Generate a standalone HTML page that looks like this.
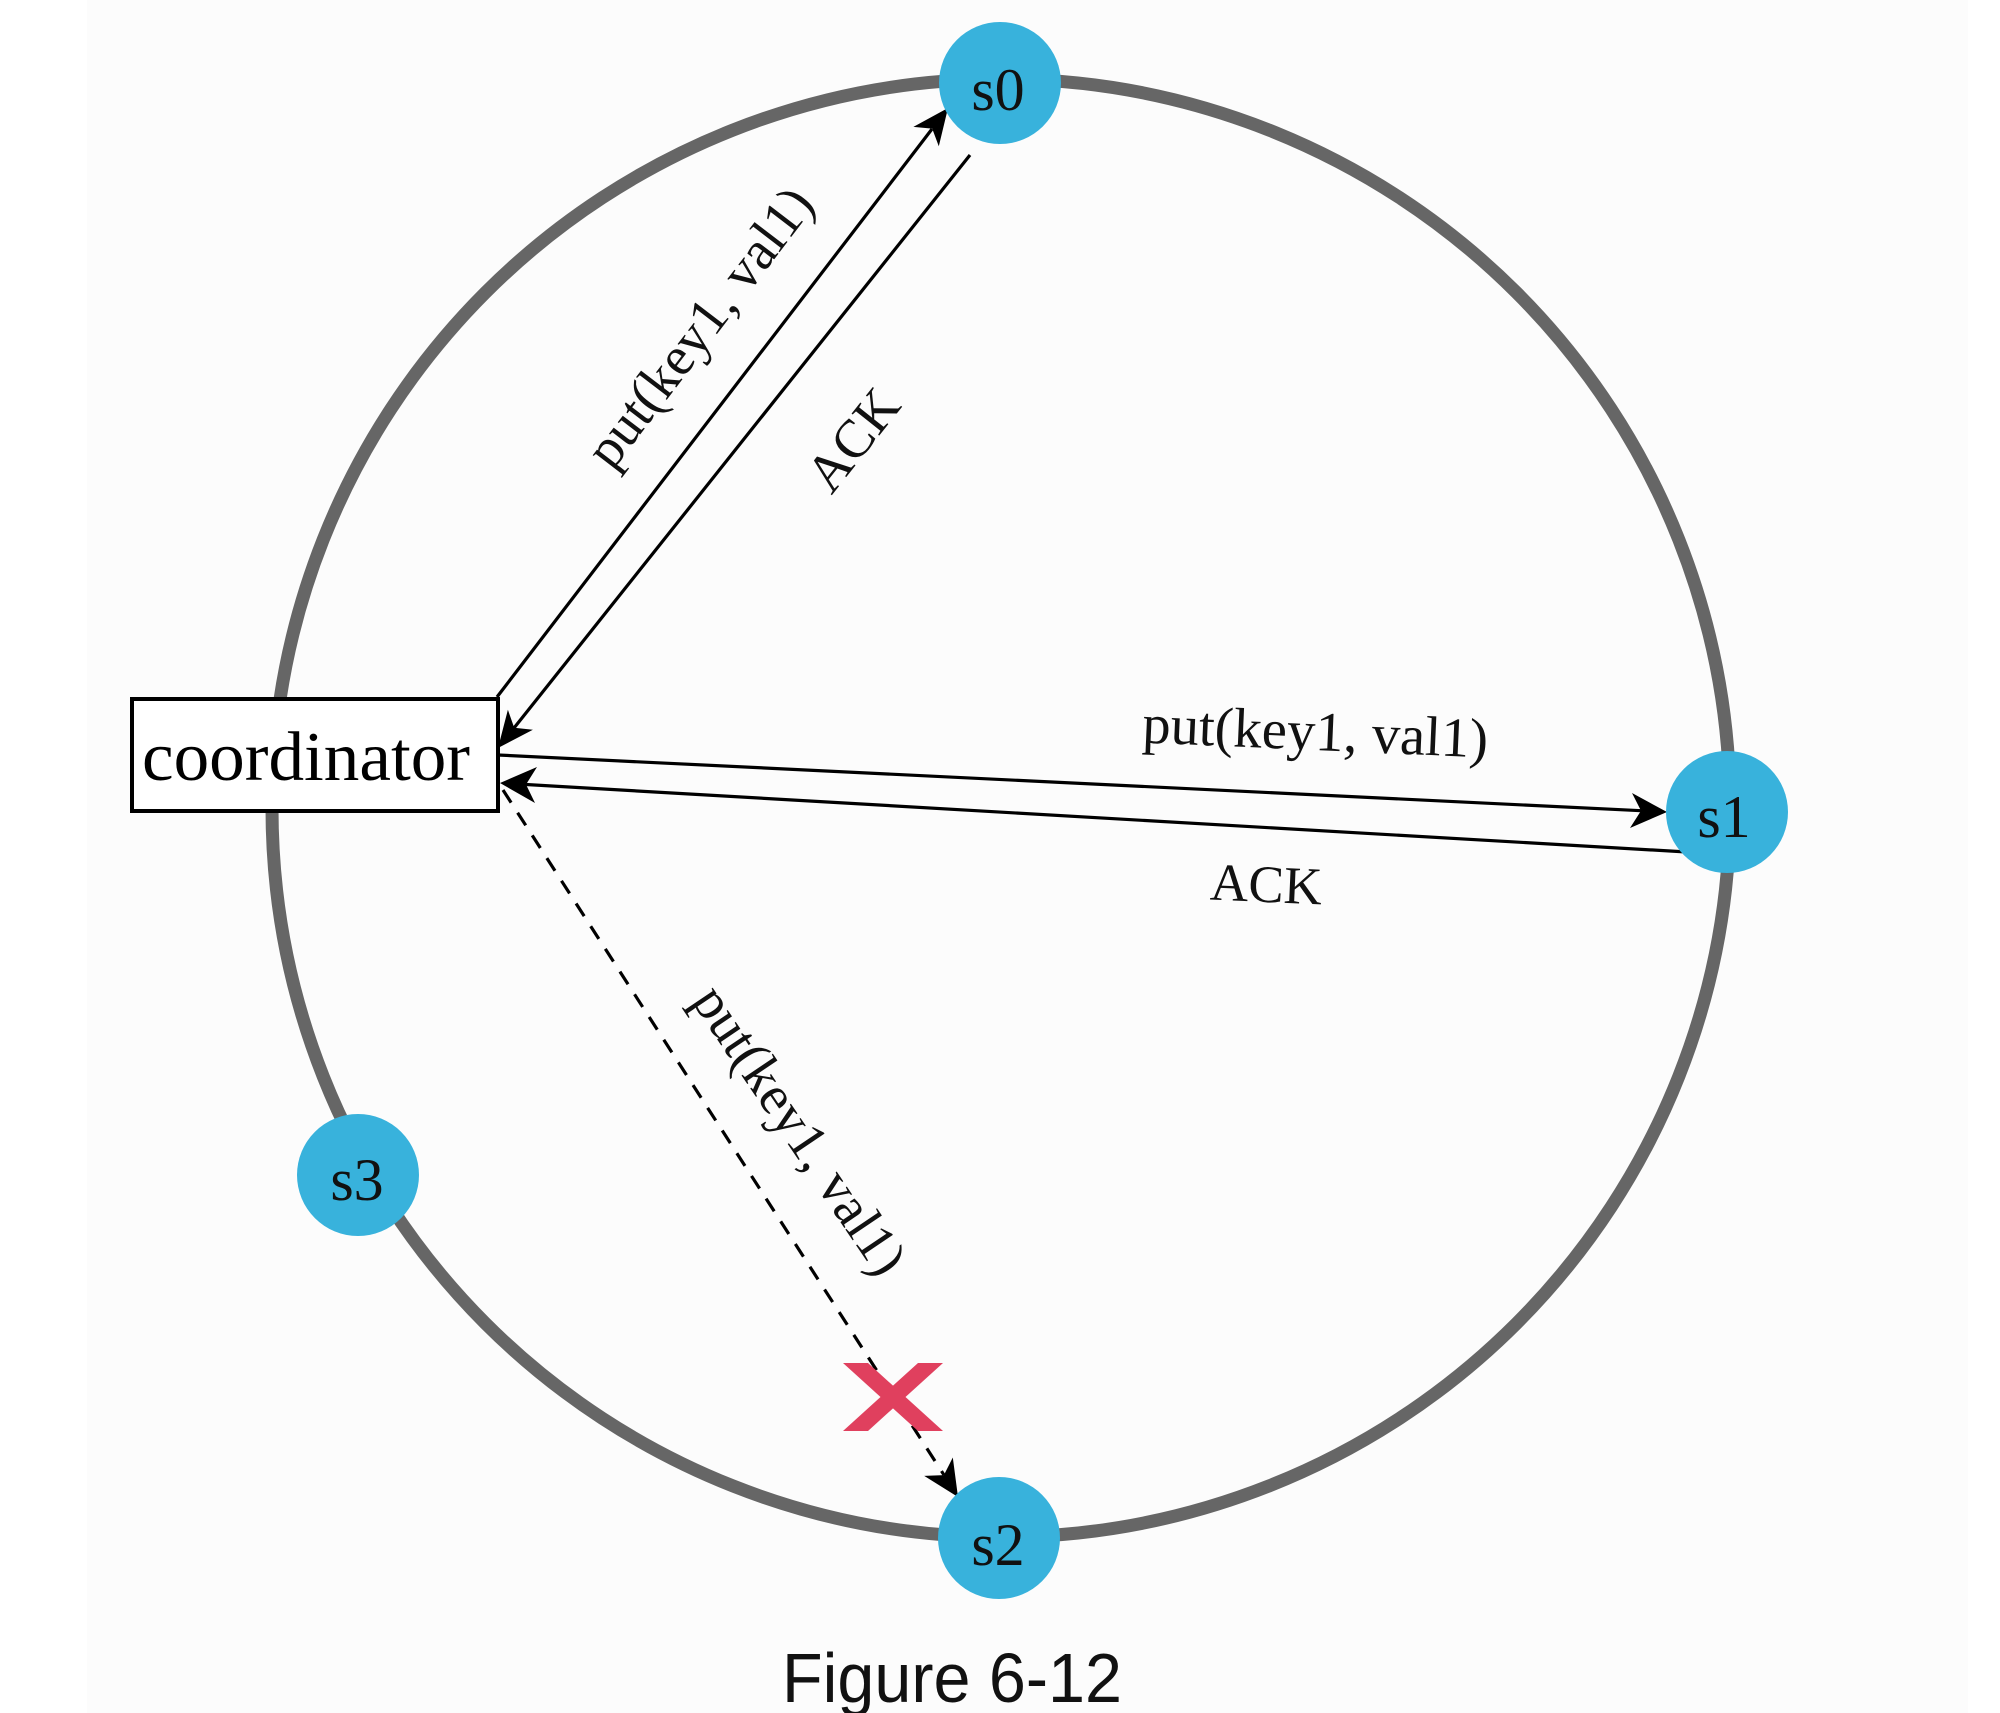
<!DOCTYPE html>
<html>
<head>
<meta charset="utf-8">
<style>
  html, body { margin: 0; padding: 0; background: #ffffff; }
  svg { display: block; }
</style>
</head>
<body>
<svg width="2000" height="1713" viewBox="0 0 2000 1713" xmlns="http://www.w3.org/2000/svg">
  <rect x="0" y="0" width="2000" height="1713" fill="#ffffff"/>
  <rect x="87" y="0" width="1881" height="1713" fill="#fcfcfc"/>

  <!-- ring -->
  <circle cx="1001" cy="808" r="729" fill="none" stroke="#666666" stroke-width="13"/>

  <!-- arrow 1: coordinator -> s0 -->
  <line x1="497" y1="697" x2="932" y2="129" stroke="#000" stroke-width="3.2"/>
  <polygon points="948,108 938.8,146.3 932.2,128.6 913.4,126.9" fill="#000"/>

  <!-- arrow 2: s0 -> coordinator (ACK) -->
  <line x1="970" y1="155" x2="514" y2="728" stroke="#000" stroke-width="3.2"/>
  <polygon points="498,748 507.9,709.8 514.2,727.7 532.9,729.8" fill="#000"/>

  <!-- arrow 3: coordinator -> s1 -->
  <line x1="498" y1="755" x2="1641" y2="810.7" stroke="#000" stroke-width="3.2"/>
  <polygon points="1667,812 1630,828 1641,810.7 1632,793" fill="#000"/>

  <!-- arrow 4: s1 -> coordinator (ACK) -->
  <line x1="1687" y1="852" x2="526" y2="784.5" stroke="#000" stroke-width="3.2"/>
  <polygon points="500,783 537,767 526,784.5 535,803" fill="#000"/>

  <!-- arrow 5: dashed coordinator -> s2 -->
  <line x1="503" y1="790" x2="944" y2="1475" stroke="#000" stroke-width="3.2" stroke-dasharray="15 12"/>
  <polygon points="958,1497 924.2,1475.9 943.9,1475.1 952.8,1457.5" fill="#000"/>

  <!-- red X -->
  <polygon points="843,1363 868,1363 943,1431 918,1431" fill="#e0405e"/>
  <polygon points="918,1363 943,1363 868,1431 843,1431" fill="#e0405e"/>

  <!-- coordinator box -->
  <rect x="132" y="699" width="366" height="112" fill="#ffffff" stroke="#000" stroke-width="4"/>
  <text x="142" y="780" font-family="'Liberation Serif', serif" font-size="70" textLength="328" lengthAdjust="spacingAndGlyphs" fill="#000">coordinator</text>

  <!-- nodes -->
  <circle cx="1000" cy="83" r="61" fill="#38b2dc"/>
  <text x="998" y="110" text-anchor="middle" font-family="'Liberation Serif', serif" font-size="60" fill="#111">s0</text>

  <circle cx="1727" cy="812" r="61" fill="#38b2dc"/>
  <text x="1724" y="837" text-anchor="middle" font-family="'Liberation Serif', serif" font-size="60" fill="#111">s1</text>

  <circle cx="999" cy="1538" r="61" fill="#38b2dc"/>
  <text x="998" y="1565" text-anchor="middle" font-family="'Liberation Serif', serif" font-size="60" fill="#111">s2</text>

  <circle cx="358" cy="1175" r="61" fill="#38b2dc"/>
  <text x="357" y="1200" text-anchor="middle" font-family="'Liberation Serif', serif" font-size="60" fill="#111">s3</text>

  <!-- labels -->
  <text x="714" y="338" text-anchor="middle" transform="rotate(-52.6 714 338)" font-family="'Liberation Serif', serif" font-size="55" fill="#111">put(key1, val1)</text>
  <text x="867" y="451" text-anchor="middle" transform="rotate(-51.5 867 451)" font-family="'Liberation Serif', serif" font-size="54" fill="#111">ACK</text>

  <text x="1315" y="750" text-anchor="middle" transform="rotate(2.5 1315 740)" font-family="'Liberation Serif', serif" font-size="56" textLength="346" lengthAdjust="spacingAndGlyphs" fill="#111">put(key1, val1)</text>
  <text x="1266" y="902" text-anchor="middle" transform="rotate(2.5 1266 890)" font-family="'Liberation Serif', serif" font-size="53" textLength="112" lengthAdjust="spacingAndGlyphs" fill="#111">ACK</text>

  <text x="785" y="1140" text-anchor="middle" transform="rotate(56 785 1140)" font-family="'Liberation Serif', serif" font-size="55" fill="#111">put(key1, val1)</text>

  <!-- caption -->
  <text x="782" y="1702" font-family="'Liberation Sans', Arial, sans-serif" font-size="70" textLength="340" lengthAdjust="spacingAndGlyphs" fill="#111">Figure 6-12</text>
</svg>
</body>
</html>
